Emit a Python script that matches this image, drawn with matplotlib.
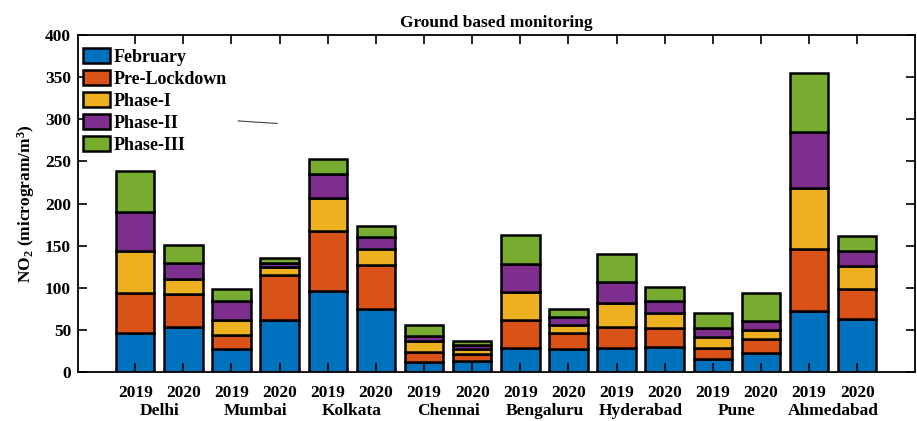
import numpy as np
import matplotlib.pyplot as plt
from matplotlib.transforms import blended_transform_factory

plt.rcParams["font.family"] = ["Liberation Serif", "DejaVu Serif"]
plt.rcParams["font.weight"] = "bold"
plt.rcParams["mathtext.fontset"] = "custom"
plt.rcParams["mathtext.rm"] = "Liberation Serif:bold"
plt.rcParams["mathtext.it"] = "Liberation Serif:bold"

cities = ["Delhi", "Mumbai", "Kolkata", "Chennai", "Bengaluru", "Hyderabad", "Pune", "Ahmedabad"]
years = ["2019", "2020"]
phases = ["February", "Pre-Lockdown", "Phase-I", "Phase-II", "Phase-III"]

# one value per bar: city order, 2019 then 2020
february     = [47, 53, 27, 62, 96, 75, 11.5, 12.7, 28.5, 27, 29, 30, 16, 23, 72, 63]
pre_lockdown = [47, 39.5, 17, 53, 71, 52, 13, 8.7, 33, 20, 25, 22, 13, 16, 74, 35.6]
phase_1      = [50, 18.5, 18, 10, 39.5, 19, 12, 6, 33, 9, 28.5, 18, 12.6, 11, 72.4, 27]
phase_2      = [46, 18, 22, 5, 29, 14, 6, 5, 33.5, 9, 25, 14, 11, 11, 67, 18.5]
phase_3      = [49, 22, 15, 6, 17, 13, 14, 4, 34.5, 10.5, 33, 16.5, 18, 33, 70, 18]

colors = ["#0072BD", "#D95319", "#EDB120", "#7E2F8E", "#77AC30"]
series = [february, pre_lockdown, phase_1, phase_2, phase_3]

fig = plt.figure(figsize=(9.17, 4.21), dpi=100)
ax = fig.add_axes([0.085, 0.116, 0.9128, 0.801])

x = np.arange(1, len(february) + 1)
bottom = np.zeros(len(x))
for vals, c, name in zip(series, colors, phases):
    ax.bar(x, vals, width=0.8, bottom=bottom, color=c, edgecolor="black",
           linewidth=1.8, label=name)
    bottom += np.array(vals)

ax.set_axisbelow(False)
ax.set_xlim(-0.19, 17.2)
ax.set_ylim(0, 400)
ax.set_yticks(range(0, 401, 50))
ax.set_xticks(x)
ax.set_xticklabels(years * len(cities), fontsize=12.5, fontweight="bold")
ax.tick_params(direction="in", top=True, right=True, length=6.5, width=1.2,
               labelsize=12.5, pad=9)
ax.tick_params(axis="y", pad=5)
for lbl in ax.get_yticklabels():
    lbl.set_fontweight("bold")
for s in ax.spines.values():
    s.set_linewidth(1.3)

trans = blended_transform_factory(ax.transData, ax.transAxes)
for i, city in enumerate(cities):
    ax.text(2 * i + 1.5, -0.091, city, transform=trans, ha="center", va="top",
            fontsize=12.5, fontweight="bold")

ax.set_ylabel("NO$_2$ (microgram/m$^3$)", fontsize=12.5, fontweight="bold", labelpad=6)
ax.set_title("Ground based monitoring", fontsize=12.5, fontweight="bold", pad=6)

# small stray stroke inside the plot area
ax.plot([3.14, 3.95], [298, 295], color="#444444", linewidth=0.8)

leg = ax.legend(loc="upper left", bbox_to_anchor=(0.0, 0.978), frameon=False,
                fontsize=13, handlelength=1.5, handleheight=0.95,
                handletextpad=0.15, labelspacing=0.22,
                borderaxespad=0.0, borderpad=0.3)
for t in leg.get_texts():
    t.set_fontweight("bold")

fig.savefig("out.png", dpi=100)
